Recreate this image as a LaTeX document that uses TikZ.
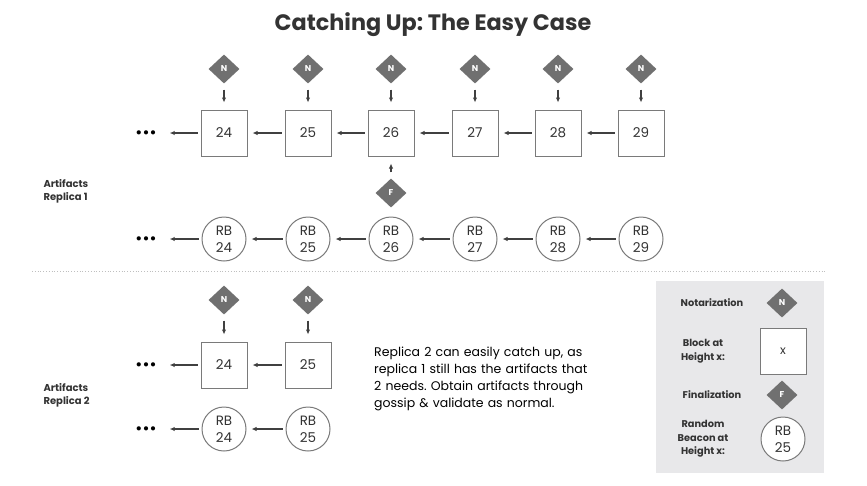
\documentclass[tikz,border=0pt]{standalone}
\usepackage{fontspec}
\setmainfont{Poppins}
\usetikzlibrary{shapes.geometric,arrows.meta}
\frenchspacing
\definecolor{txt}{HTML}{333333}
\definecolor{dia}{HTML}{707070}
\definecolor{edge}{HTML}{7A7A7A}
\definecolor{arr}{HTML}{404040}
\definecolor{leg}{HTML}{E8E8EA}
\tikzset{
  blockbox/.style={draw=edge, line width=1pt, fill=white, minimum width=46pt, minimum height=46pt, inner sep=0pt, font=\fontsize{13.5}{15}\selectfont, text=txt},
  rbcirc/.style={circle, draw=edge, line width=1pt, fill=white, minimum size=44pt, inner sep=0pt, align=center, font=\fontsize{13.5}{15}\selectfont, text=txt},
  dmd/.style={diamond, fill=dia, minimum width=31pt, minimum height=29pt, inner sep=0pt, text=white, font=\fontsize{8.5}{9}\selectfont\bfseries},
  chain/.style={arr, line width=1.2pt, -{Latex[length=5pt,width=4.5pt]}, shorten <=3pt, shorten >=5pt},
  varr/.style={arr, line width=1.2pt, -{Latex[length=5pt,width=4.5pt]}, shorten <=6pt, shorten >=7pt},
  dots/.style={inner sep=0pt, font=\fontsize{17}{18}\selectfont, text=black},
  sidelabel/.style={align=left, anchor=west, font=\fontsize{10}{13}\selectfont\bfseries, text=txt},
  leglabel/.style={align=center, font=\fontsize{9.8}{13.5}\selectfont\bfseries, text=txt},
}
\begin{document}
\begin{tikzpicture}[x=1pt,y=-1pt]
\useasboundingbox (0,0) rectangle (867,485);
\fill[white] (0,0) rectangle (867,485);
\node[font=\fontsize{22.3}{26}\selectfont\bfseries, text=txt] (title) at (433,25) {Catching Up: The Easy Case};

% Replica 1
\node[sidelabel] (lab1) at (40,191) {Artifacts\\Replica 1};
\node[dots] (d1) at (146,135) {•••};
\node[dots] (d2) at (146,241) {•••};
\foreach \n/\x in {24/224,25/308,26/391,27/475,28/558,29/641}{
  \node[blockbox] (t\n) at (\x,133) {\n};
  \node[dmd] (n\n) at (\x,69) {N};
  \node[rbcirc] (r\n) at (\x,239) {RB\\[2pt]\n};
  \draw[varr] (n\n) -- (t\n);
}
\foreach \a/\b in {25/24,26/25,27/26,28/27,29/28}{
  \draw[chain] (t\a.west) -- (t\b.east);
  \draw[chain] (r\a.west) -- (r\b.east);
}
\draw[chain] (t24.west) -- ([xshift=8pt]d1.east |- t24.west);
\draw[chain] (r24.west) -- ([xshift=8pt]d2.east |- r24.west);
\node[dmd] (f26) at (391,193) {F};
\draw[varr] (f26) -- (t26);

% separator
\draw[gray!50, line width=0.8pt, dotted] (32,271) -- (825,271);

% Replica 2
\node[sidelabel] (lab2) at (40,395) {Artifacts\\Replica 2};
\node[dots] (e1) at (146,367) {•••};
\node[dots] (e2) at (146,431) {•••};
\foreach \n/\x in {24/224,25/308}{
  \node[blockbox] (b\n) at (\x,365) {\n};
  \node[dmd] (m\n) at (\x,300) {N};
  \node[rbcirc] (q\n) at (\x,429) {RB\\[2pt]\n};
  \draw[varr] (m\n) -- (b\n);
}
\draw[chain] (b25.west) -- (b24.east);
\draw[chain] (q25.west) -- (q24.east);
\draw[chain] (b24.west) -- ([xshift=8pt]e1.east |- b24.west);
\draw[chain] (q24.west) -- ([xshift=8pt]e2.east |- q24.west);

\node[anchor=north west, align=left, text width=215pt, inner sep=0pt, font=\fontsize{12.5}{17}\selectfont, text=black] (para) at (374,347)
{Replica 2 can easily catch up, as replica 1 still has the artifacts that 2 needs. Obtain artifacts through gossip \& validate as normal.};

% legend
\node[fill=leg, minimum width=168pt, minimum height=192pt, inner sep=0pt] (legbox) at (740,377) {};
\node[leglabel] (l1) at (712,303) {Notarization};
\node[dmd] (ln) at (782,303) {N};
\node[leglabel] (l2) at (703,351) {Block at\\Height x:};
\node[blockbox, font=\fontsize{12}{13}\selectfont] (lb) at (783,351) {x};
\node[leglabel] (l3) at (712,395) {Finalization};
\node[dmd] (lf) at (782,395) {F};
\node[leglabel] (l4) at (703,439) {Random\\Beacon at\\Height x:};
\node[rbcirc] (lr) at (783,439) {RB\\[2pt]25};
\end{tikzpicture}
\end{document}
